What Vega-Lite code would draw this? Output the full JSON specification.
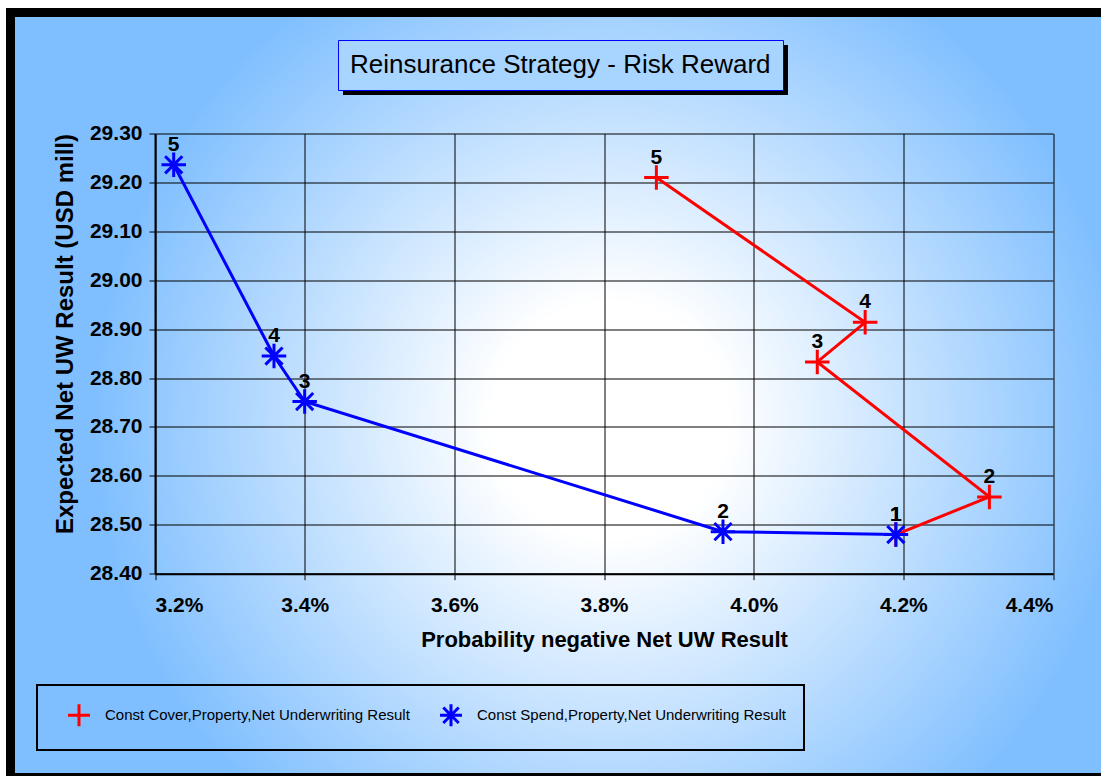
{
  "$schema": "https://vega.github.io/schema/vega-lite/v6.json",
  "width": 1095,
  "height": 765,
  "autosize": {"type": "none"},
  "padding": {"left": 10.5, "top": 12.5, "right": -4.5, "bottom": -1.5},
  "background": "white",
  "data": {
    "values": [
      {"series": "Const Cover,Property,Net Underwriting Result", "n": 1, "prob": 0.04190, "result": 28.480},
      {"series": "Const Cover,Property,Net Underwriting Result", "n": 2, "prob": 0.04315, "result": 28.557},
      {"series": "Const Cover,Property,Net Underwriting Result", "n": 3, "prob": 0.04085, "result": 28.833},
      {"series": "Const Cover,Property,Net Underwriting Result", "n": 4, "prob": 0.04149, "result": 28.914},
      {"series": "Const Cover,Property,Net Underwriting Result", "n": 5, "prob": 0.03870, "result": 29.210},
      {"series": "Const Spend,Property,Net Underwriting Result", "n": 1, "prob": 0.04190, "result": 28.480},
      {"series": "Const Spend,Property,Net Underwriting Result", "n": 2, "prob": 0.03959, "result": 28.486},
      {"series": "Const Spend,Property,Net Underwriting Result", "n": 3, "prob": 0.03400, "result": 28.752},
      {"series": "Const Spend,Property,Net Underwriting Result", "n": 4, "prob": 0.03359, "result": 28.845},
      {"series": "Const Spend,Property,Net Underwriting Result", "n": 5, "prob": 0.03225, "result": 29.236}
    ]
  },
  "encoding": {
    "y": {
      "field": "result",
      "type": "quantitative",
      "scale": {"domain": [28.4, 29.3], "range": [561.2, 121], "nice": false, "zero": false},
      "axis": {
        "orient": "left",
        "offset": -144.5,
        "values": [28.4, 28.5, 28.6, 28.7, 28.8, 28.9, 29.0, 29.1, 29.2, 29.3],
        "format": ".2f",
        "title": "Expected Net UW Result (USD mill)",
        "titleFontSize": 24,
        "labelPadding": 7,
        "titlePadding": 12,
        "titleY": 321
      }
    },
    "color": {
      "field": "series",
      "type": "nominal",
      "scale": {
        "domain": ["Const Cover,Property,Net Underwriting Result", "Const Spend,Property,Net Underwriting Result"],
        "range": ["#FF0000", "#0000FF"]
      },
      "legend": {
        "title": null,
        "orient": "none",
        "legendX": 26.5,
        "legendY": 672.5,
        "direction": "horizontal",
        "padding": 17.5,
        "strokeColor": "black",
        "symbolSize": 484,
        "symbolStrokeWidth": 3,
        "symbolOffset": 12,
        "labelOffset": 13.5,
        "labelFontSize": 15,
        "labelFont": "Liberation Sans",
        "labelColor": "black",
        "labelLimit": 400,
        "columnPadding": 16,
        "encode": {
          "legend": {"update": {"strokeWidth": {"value": 2}}}
        }
      }
    }
  },
  "layer": [
    {
      "mark": {"type": "line", "strokeWidth": 3},
      "encoding": {
        "x": {
          "field": "prob",
          "type": "quantitative",
          "scale": {"domain": [0.032, 0.044], "range": [144.5, 1042.5], "nice": false, "zero": false},
          "axis": {
            "orient": "top",
            "values": [0.032, 0.034, 0.036, 0.038, 0.040, 0.042, 0.044],
            "grid": true,
            "labels": false,
            "ticks": false,
            "domain": false,
            "title": null
          }
        },
        "order": {"field": "n", "type": "quantitative"}
      }
    },
    {
      "mark": {"type": "point", "filled": false, "size": 600, "strokeWidth": 3, "opacity": 1},
      "encoding": {
        "x": {
          "field": "prob",
          "type": "quantitative",
          "scale": {"domain": [0.032, 0.044], "range": [144.5, 1042.5], "nice": false, "zero": false},
          "axis": {
            "orient": "bottom",
            "offset": -203.8,
            "values": [0.032, 0.034, 0.036, 0.038, 0.040, 0.042, 0.044],
            "format": ".1%",
            "grid": false,
            "title": "Probability negative Net UW Result",
            "titleFontSize": 22,
            "labelPadding": 15,
            "titlePadding": 14
          }
        },
        "shape": {
          "field": "series",
          "type": "nominal",
          "scale": {
            "domain": ["Const Cover,Property,Net Underwriting Result", "Const Spend,Property,Net Underwriting Result"],
            "range": ["M-1,0H1M0,-1V1", "M-1,0H1M0,-1V1M-0.7,-0.7L0.7,0.7M-0.7,0.7L0.7,-0.7"]
          }
        }
      }
    },
    {
      "mark": {"type": "text", "dy": -20, "fontSize": 21, "fontWeight": "bold", "font": "Liberation Sans"},
      "encoding": {
        "x": {
          "field": "prob",
          "type": "quantitative",
          "scale": {"domain": [0.032, 0.044], "range": [144.5, 1042.5], "nice": false, "zero": false},
          "axis": null
        },
        "text": {"field": "n", "type": "nominal"},
        "fill": {
          "field": "result",
          "type": "quantitative",
          "scale": {"range": ["black", "black"]},
          "legend": {
            "title": null,
            "labelExpr": "''",
            "labelOpacity": 0,
            "labelFontSize": 1,
            "orient": "none",
            "direction": "horizontal",
            "legendX": 332.5,
            "legendY": 32.5,
            "padding": 0,
            "gradientLength": 445,
            "gradientThickness": 50,
            "gradientStrokeColor": "black",
            "gradientStrokeWidth": 0,
            "zindex": 1
          }
        },
        "opacity": {
          "field": "n",
          "type": "quantitative",
          "scale": {"range": [1, 1]},
          "legend": {
            "title": "Reinsurance Strategy - Risk Reward",
            "values": [],
            "orient": "none",
            "legendX": 327.5,
            "legendY": 27.5,
            "padding": 12,
            "fillColor": "#A8D5FF",
            "strokeColor": "#0000FF",
            "titleFont": "Liberation Sans",
            "titleFontSize": 26,
            "titleFontWeight": "normal",
            "titleColor": "black",
            "titleLimit": 600,
            "zindex": 2,
            "encode": {"legend": {"update": {"strokeWidth": {"value": 2.5}}}}
          }
        }
      }
    }
  ],
  "resolve": {"axis": {"x": "independent"}},
  "config": {
    "font": "Liberation Sans",
    "view": {
      "fill": {
        "gradient": "radial",
        "x1": 0.5475, "y1": 0.523, "r1": 0,
        "x2": 0.5475, "y2": 0.523, "r2": 0.47,
        "stops": [
          {"offset": 0, "color": "#ffffff"},
          {"offset": 0.23, "color": "#ffffff"},
          {"offset": 1, "color": "#80BFFF"}
        ]
      },
      "stroke": "black",
      "strokeWidth": 9
    },
    "axis": {
      "labelFont": "Liberation Sans",
      "labelFontSize": 21,
      "labelFontWeight": "bold",
      "labelColor": "black",
      "titleFont": "Liberation Sans",
      "titleFontSize": 22,
      "titleFontWeight": "bold",
      "titleColor": "black",
      "tickColor": "black",
      "tickSize": 6,
      "tickWidth": 1,
      "domainColor": "black",
      "domainWidth": 2,
      "grid": true,
      "gridColor": "black",
      "gridWidth": 1,
      "gridOpacity": 1
    }
  }
}
